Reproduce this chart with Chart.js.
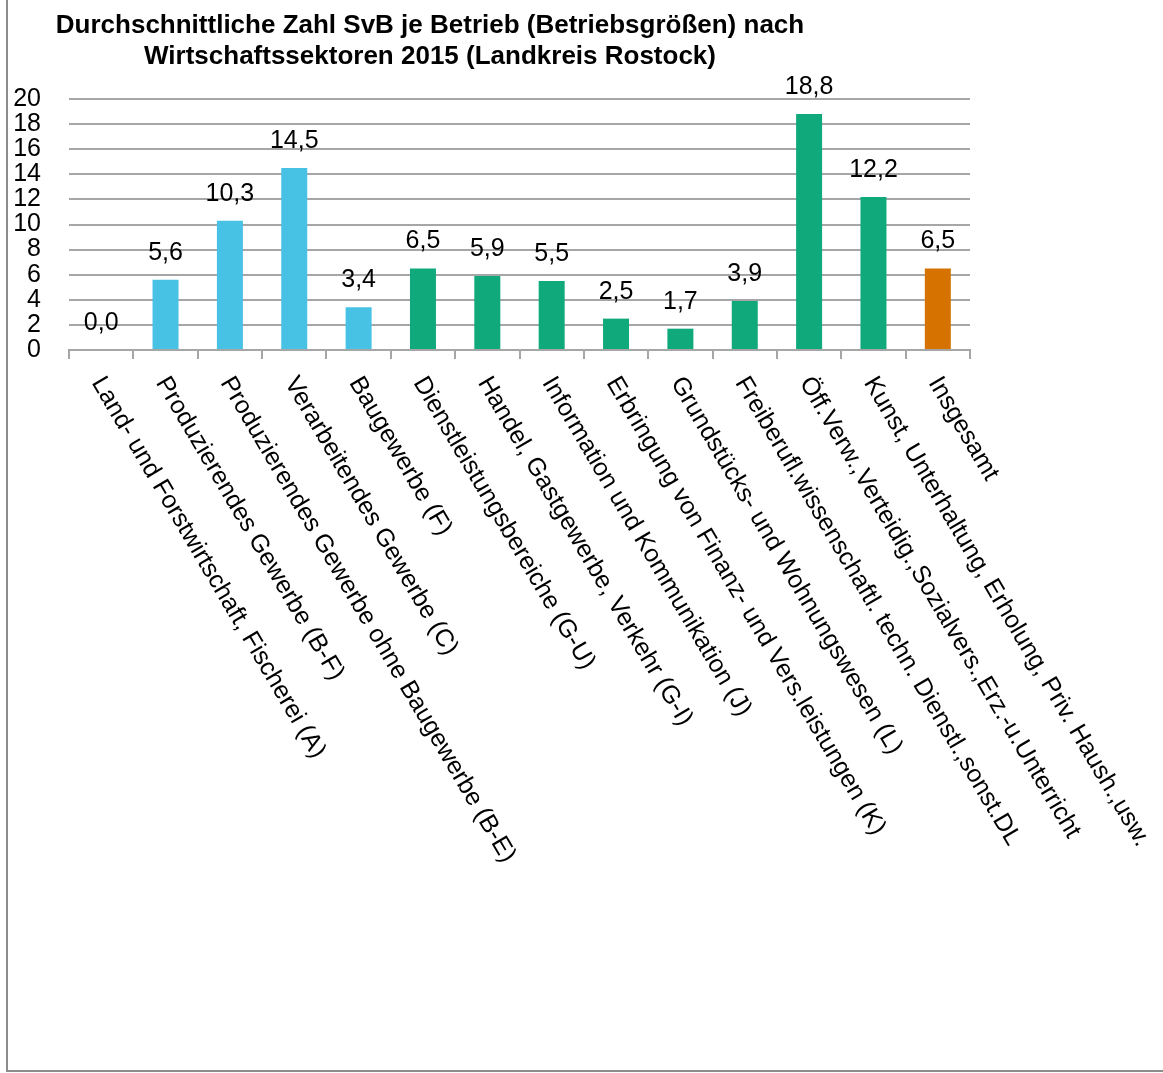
<!DOCTYPE html>
<html>
<head>
<meta charset="utf-8">
<script src="https://cdn.jsdelivr.net/npm/chart.js@4/dist/chart.umd.min.js"></script>
<style>
  body { margin: 0; background: #fff; }
</style>
</head>
<body>
<canvas id="chart" width="1163" height="1073"></canvas>
<script>
const titleLines = [
    'Durchschnittliche Zahl SvB je Betrieb (Betriebsgrößen) nach',
    'Wirtschaftssektoren 2015 (Landkreis Rostock)'
];
const categories = [
    'Land- und Forstwirtschaft, Fischerei (A)',
    'Produzierendes Gewerbe (B-F)',
    'Produzierendes Gewerbe ohne Baugewerbe (B-E)',
    'Verarbeitendes Gewerbe (C)',
    'Baugewerbe (F)',
    'Dienstleistungsbereiche (G-U)',
    'Handel, Gastgewerbe, Verkehr (G-I)',
    'Information und Kommunikation (J)',
    'Erbringung von Finanz- und Vers.leistungen (K)',
    'Grundstücks- und Wohnungswesen (L)',
    'Freiberufl.wissenschaftl. techn. Dienstl.,sonst.DL',
    'Öff.Verw.,Verteidig.,Sozialvers.,Erz.-u.Unterricht',
    'Kunst, Unterhaltung, Erholung, Priv. Haush.,usw.',
    'Insgesamt'
];
const values = [0.0, 5.6, 10.3, 14.5, 3.4, 6.5, 5.9, 5.5, 2.5, 1.7, 3.9, 18.8, 12.2, 6.5];
const sectorGroup = ['p', 'p', 'p', 'p', 'p', 'd', 'd', 'd', 'd', 'd', 'd', 'd', 'd', 't'];
const yTicks = [0, 2, 4, 6, 8, 10, 12, 14, 16, 18, 20];

const groupColors = { p: '#48c2e4', d: '#10a97b', t: '#d67300' };
const gridGray = '#a6a6a6';
const fontFamily = '"Liberation Sans", Arial, sans-serif';

function fmt(v) {
    return v.toFixed(1).replace('.', ',');
}

const decorPlugin = {
    id: 'decor',
    beforeDraw(chart) {
        const ctx = chart.ctx;
        ctx.save();
        ctx.strokeStyle = '#8c8c8c';
        ctx.lineWidth = 2;
        ctx.beginPath();
        ctx.moveTo(7, 0);
        ctx.lineTo(7, 1071);
        ctx.lineTo(chart.width, 1071);
        ctx.stroke();
        ctx.restore();
    },
    afterDraw(chart) {
        const ctx = chart.ctx;
        const xs = chart.scales.x;
        const meta = chart.getDatasetMeta(0);
        ctx.save();
        // title
        ctx.fillStyle = '#000';
        ctx.font = 'bold 26px ' + fontFamily;
        ctx.textAlign = 'center';
        ctx.textBaseline = 'alphabetic';
        ctx.fillText(titleLines[0], 430, 33);
        ctx.fillText(titleLines[1], 430, 64);

        // data labels
        ctx.font = '25px ' + fontFamily;
        meta.data.forEach((bar, i) => {
            ctx.fillText(fmt(values[i]), bar.x, bar.y - 20);
        });

        // rotated category labels
        ctx.font = '25px ' + fontFamily;
        ctx.textAlign = 'left';
        ctx.textBaseline = 'middle';
        const angle = 59.5 * Math.PI / 180;
        categories.forEach((label, i) => {
            const x = xs.getPixelForValue(i);
            ctx.save();
            ctx.translate(x - 4, xs.top + 29);
            ctx.rotate(angle);
            ctx.fillText(label, 0, 0);
            ctx.restore();
        });
        ctx.restore();
    }
};

new Chart(document.getElementById('chart'), {
    type: 'bar',
    data: {
        labels: categories,
        datasets: [{
            data: values,
            backgroundColor: sectorGroup.map(g => groupColors[g]),
            borderWidth: 0,
            barPercentage: 0.404,
            categoryPercentage: 1
        }]
    },
    options: {
        responsive: false,
        devicePixelRatio: 1,
        animation: false,
        layout: { padding: { left: 0, top: 99, right: 193, bottom: 714 } },
        plugins: {
            legend: { display: false },
            tooltip: { enabled: false },
            title: { display: false }
        },
        scales: {
            x: {
                offset: true,
                afterFit(scale) { scale.height = 9; },
                grid: {
                    offset: true,
                    drawOnChartArea: false,
                    drawTicks: true,
                    tickLength: 9,
                    color: gridGray,
                    lineWidth: 2
                },
                border: { display: true, color: gridGray, width: 2 },
                ticks: { display: false }
            },
            y: {
                min: 0,
                max: 20,
                afterFit(scale) { scale.width = 69; },
                afterBuildTicks(scale) { scale.ticks = yTicks.map(v => ({ value: v })); },
                grid: { drawTicks: false, color: gridGray, lineWidth: 2 },
                border: { display: false },
                ticks: {
                    autoSkip: false,
                    padding: 28,
                    color: '#000',
                    font: { family: fontFamily, size: 25 },
                    callback: v => String(v)
                }
            }
        }
    },
    plugins: [decorPlugin]
});
</script>
</body>
</html>
